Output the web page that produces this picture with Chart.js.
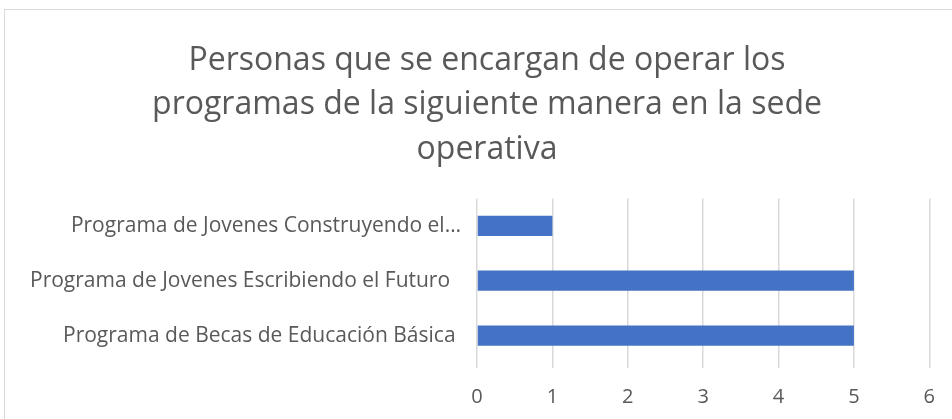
<!DOCTYPE html>
<html>
<head>
<meta charset="utf-8">
<script src="https://cdn.jsdelivr.net/npm/chart.js@4.4.1/dist/chart.umd.min.js"></script>
<style>
  html, body { margin: 0; padding: 0; background: #fff; overflow: hidden; }
  #wrap { position: relative; width: 952px; height: 419px; }
  #frame { position: absolute; left: 4px; top: 9px; width: 1000px; height: 1000px;
           border: 1px solid #d9d9d9; pointer-events: none; }
</style>
</head>
<body>
<div id="wrap">
  <canvas id="chart" width="952" height="419"></canvas>
  <div id="frame"></div>
</div>
<script>
const titleLines = ['Personas que se encargan de operar los', 'programas de la siguiente manera en la sede', 'operativa'];
const categories = ['Programa de Jovenes Construyendo el…', 'Programa de Jovenes Escribiendo el Futuro  ', 'Programa de Becas de Educación Básica '];
const values = [1, 5, 5];
const xTicks = [0, 1, 2, 3, 4, 5, 6];

const textColor = '#595959';
const gridColor = '#d9d9d9';
const fontFamily = '"Open Sans", "Noto Sans", sans-serif';

// the title is centred on the whole frame, so the left padding is large;
// let the category labels use that space instead of being clipped
const wideLabels = {
  id: 'wideLabels',
  afterLayout(chart) { chart.scales.y.left = 0; }
};

const ctx = document.getElementById('chart').getContext('2d');
new Chart(ctx, {
  type: 'bar',
  data: {
    labels: categories,
    datasets: [{
      data: values,
      backgroundColor: '#4472c4',
      borderWidth: 0,
      barPercentage: 0.368,
      categoryPercentage: 1
    }]
  },
  options: {
    indexAxis: 'y',
    responsive: false,
    animation: false,
    layout: { padding: { top: 38, right: 22, bottom: 0, left: 44 } },
    plugins: {
      legend: { display: false },
      tooltip: { enabled: false },
      title: {
        display: true,
        text: titleLines,
        color: textColor,
        font: { family: fontFamily, size: 32, weight: 'normal', lineHeight: 1.4 },
        padding: { top: 0, bottom: 26 }
      }
    },
    scales: {
      x: {
        min: xTicks[0],
        max: xTicks[xTicks.length - 1],
        ticks: { stepSize: 1, color: textColor, font: { family: fontFamily, size: 20 }, padding: 17 },
        grid: { color: gridColor, lineWidth: 1.5, drawTicks: true, tickLength: 5 },
        border: { display: false },
        afterFit: (scale) => { scale.height = 56; }
      },
      y: {
        ticks: { color: textColor, font: { family: fontFamily, size: 21 }, autoSkip: false, padding: 8 },
        grid: { display: false },
        border: { display: false },
        afterFit: (scale) => { scale.width = 433; }
      }
    }
  },
  plugins: [wideLabels]
});
</script>
</body>
</html>
